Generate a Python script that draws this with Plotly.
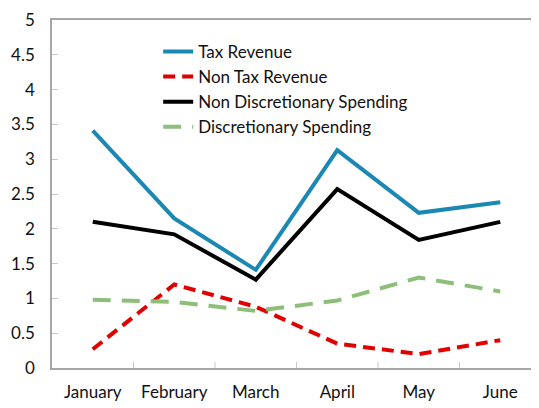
import plotly.graph_objects as go

months = ["January", "February", "March", "April", "May", "June"]
tax_revenue = [3.41, 2.15, 1.41, 3.13, 2.23, 2.38]
non_tax_revenue = [0.27, 1.20, 0.88, 0.35, 0.20, 0.40]
non_discretionary = [2.10, 1.92, 1.27, 2.57, 1.84, 2.10]
discretionary = [0.98, 0.95, 0.82, 0.97, 1.30, 1.10]

y_ticks = [0, 0.5, 1, 1.5, 2, 2.5, 3, 3.5, 4, 4.5, 5]
y_tick_text = ["0", "0.5", "1", "1.5", "2", "2.5", "3", "3.5", "4", "4.5", "5"]

series = [
    ("Tax Revenue", tax_revenue, "#1B87B3", "solid"),
    ("Non Tax Revenue", non_tax_revenue, "#E00000", "12px,7px"),
    ("Non Discretionary Spending", non_discretionary, "#000000", "solid"),
    ("Discretionary Spending", discretionary, "#8DBF7B", "18px,11px"),
]

fig = go.Figure()
for i, (name, vals, color, dash) in enumerate(series):
    fig.add_trace(go.Scatter(
        x=months, y=vals, name=name, mode="lines",
        line=dict(color=color, width=4, dash=dash),
    ))

font_family = "Lato, 'Open Sans', sans-serif"
fig.update_layout(
    width=531, height=400, autosize=False,
    margin=dict(l=44, r=0, t=12, b=40),
    paper_bgcolor="white", plot_bgcolor="white",
    font=dict(family=font_family, size=17, color="#222222"),
    showlegend=True,
    legend=dict(
        x=0.218, y=0.96, xanchor="left", yanchor="top",
        bgcolor="rgba(0,0,0,0)", borderwidth=0,
        font=dict(family=font_family, size=17, color="#111111"),
        traceorder="normal", itemwidth=30,
    ),
    xaxis=dict(
        type="category", range=[-0.5, 5.475],
        showgrid=False, zeroline=False,
        showline=True, linecolor="#A6A6A6", linewidth=1.5, mirror=True,
        ticks="", tickfont=dict(size=17, color="#111111"),
        ticklabelstandoff=8,
    ),
    yaxis=dict(
        range=[0, 5], tickvals=y_ticks, ticktext=y_tick_text,
        showgrid=False, zeroline=False,
        showline=True, linecolor="#A6A6A6", linewidth=1.5,
        ticks="inside", ticklen=6, tickcolor="#C8C8C8", tickwidth=1,
        tickfont=dict(size=17, color="#111111"),
        ticklabelstandoff=12,
    ),
)

# category boundary tick marks on x axis (drawn at boundaries between categories)
for k in range(1, 6):
    fig.add_shape(type="line", xref="x", yref="paper",
                  x0=k - 0.5, x1=k - 0.5, y0=0, y1=0.018,
                  line=dict(color="#C8C8C8", width=1))

fig.write_html("out.html")
